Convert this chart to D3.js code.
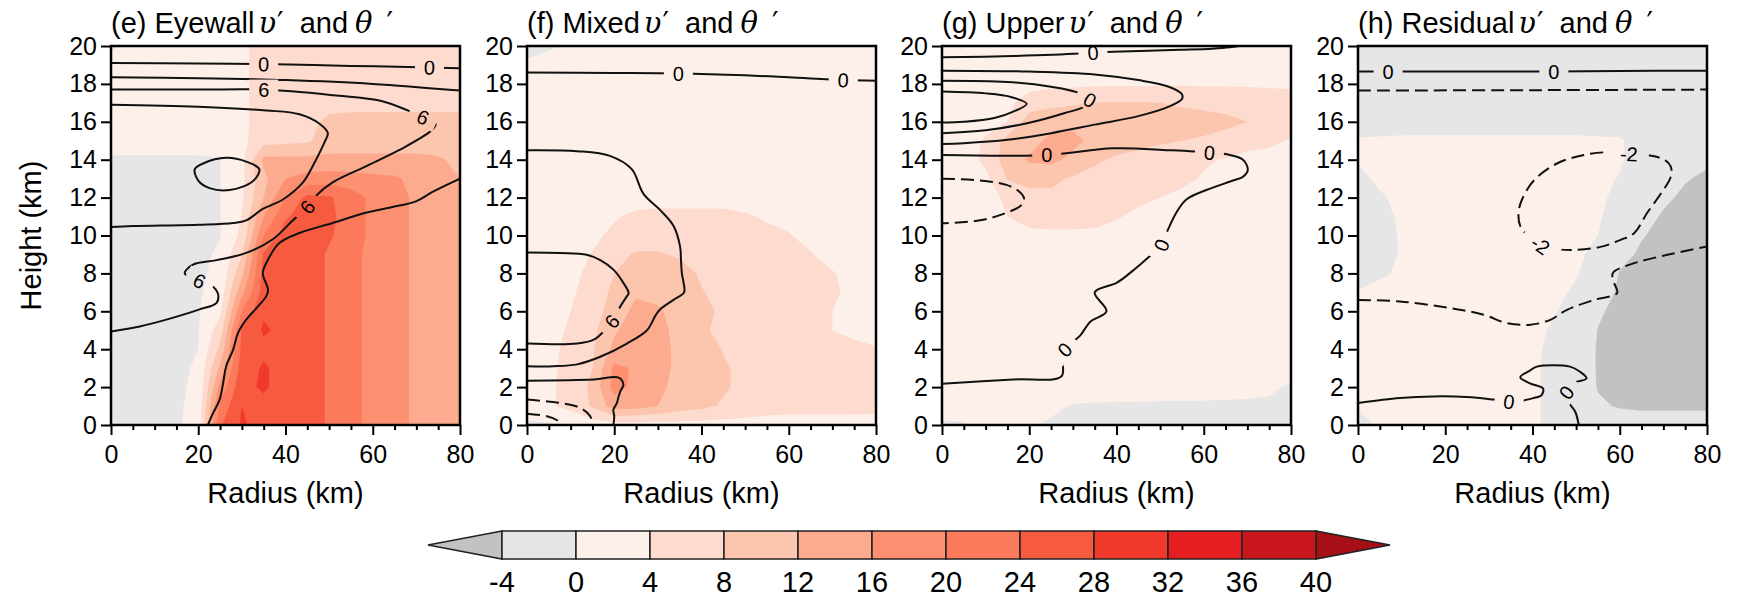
<!DOCTYPE html>
<html>
<head>
<meta charset="utf-8">
<title>Composite v' and theta'</title>
<script src="https://cdn.jsdelivr.net/npm/d3@7"></script>
<style>
  body { margin: 0; background: #fff; }
  svg text { font-family: "Liberation Sans", Arial, Helvetica, sans-serif; fill: #000; }
</style>
</head>
<body>
<svg id="fig" width="1747" height="597"></svg>
<script>
// grid the shading is sampled on (km); rows run from the top of the domain down
const radius = [0, 5, 10, 15, 20, 25, 30, 35, 40, 45, 50, 55, 60, 65, 70, 75, 80];
const height = [20, 19, 18, 17, 16, 15, 14, 13, 12, 11, 10, 9, 8, 7, 6, 5, 4, 3, 2, 1, 0];

const radiusTicks = [0, 20, 40, 60, 80];
const heightTicks = [0, 2, 4, 6, 8, 10, 12, 14, 16, 18, 20];

// v' shading levels and colours (one colour per band starting at each level)
const levels = [-4, 0, 4, 8, 12, 16, 20, 24, 28, 32, 36, 40];
const shadeColors = ["#e6e6e6", "#fdf0ea", "#fddccf", "#fcc5ae", "#fcab8f", "#fc9070",
                     "#fb7a5b", "#f65b40", "#f0392b", "#e61e22", "#c9161c", "#a50f15"];
const belowColor = "#c2c2c2";

// v' (m/s) -- eyewall heating
const eyewallV = [
  [-0.5, 1, 1, 1, 1, 1, 3, 6, 6, 6, 6, 6, 6, 6, 6, 6, 6],
  [1, 1, 1, 1, 1, 1, 3, 6, 6, 6, 6, 6, 6, 6, 6, 6, 6],
  [1, 1, 1, 1, 1, 1, 3, 6, 6, 6, 6, 6, 6, 6, 6, 6, 6],
  [1, 1, 1, 1, 1, 1, 3, 6, 6, 6.5, 7, 7, 7, 7, 7, 7, 7],
  [1, 1, 1, 1, 1, 1, 3, 6, 6.5, 7, 8.7, 9, 9, 9, 9, 9, 9],
  [1, 1, 1, 1, 1, 1, 3, 6.5, 7, 7.5, 10, 10, 10, 10, 10, 10, 9.5],
  [-0.3, -0.3, -0.3, -0.3, -0.3, -0.1, 3, 13, 13, 13, 13, 13, 13, 13, 13, 12.5, 11],
  [-0.5, -0.5, -0.5, -0.5, -0.5, -0.1, 3, 11, 16, 17.5, 18, 17.5, 17, 16.5, 15, 13.5, 12],
  [-0.5, -0.5, -0.5, -0.5, -0.5, -0.1, 3.5, 12, 20, 25, 24.5, 22, 19, 17, 15.5, 14, 12.5],
  [-0.5, -0.5, -0.5, -0.5, -0.5, -0.1, 4.2, 16, 23.5, 26, 25, 22, 19, 17, 15.5, 14, 13],
  [-0.5, -0.5, -0.5, -0.5, -0.5, -0.1, 5, 20, 26, 26, 24.5, 22, 19, 17, 15.5, 14, 13],
  [-0.5, -0.5, -0.5, -0.5, -0.5, 0.3, 8, 24.5, 26, 26, 23.5, 21, 19, 17, 15.5, 14, 13],
  [-0.5, -0.5, -0.5, -0.5, -0.5, 0.8, 11, 25.5, 26, 26, 23.5, 21, 19, 17, 15.5, 14, 13],
  [-0.5, -0.5, -0.5, -0.5, -0.4, 1.5, 15, 26, 26.5, 26, 23.5, 21, 19, 17, 15.5, 14, 13],
  [-0.5, -0.5, -0.5, -0.5, -0.3, 3, 20, 27.5, 27, 26, 23.5, 21, 19, 17, 15.5, 14, 13],
  [-0.5, -0.5, -0.5, -0.5, -0.2, 6, 24.5, 28.5, 27, 26, 23.5, 21, 19, 17, 15.5, 14, 13],
  [-0.5, -0.5, -0.5, -0.5, 0, 9, 25, 27, 26.5, 26, 23.5, 21, 19, 17, 15.5, 14, 13],
  [-0.5, -0.5, -0.5, -0.5, 0.3, 13, 26, 28.5, 26.5, 26, 23.5, 21, 19, 17, 15.5, 14, 13],
  [-0.5, -0.5, -0.5, -0.5, 0.6, 17, 27, 28.5, 26.5, 26, 23.5, 21, 19, 17, 15.5, 14, 13],
  [-0.5, -0.5, -0.5, -0.5, 1, 21, 28, 27, 26.5, 26, 23.5, 21, 19, 17, 15.5, 14, 13],
  [-0.5, -0.5, -0.5, -0.5, 1.5, 23.5, 28.5, 26.5, 26, 26, 23.5, 21, 19, 17, 15.5, 14, 13]
];

// v' -- mixed heating
const mixedV = [
  [-1, -0.5, 0.5, 2, 2, 2, 2, 2, 2, 2, 2, 2, 2, 2, 2, 2, 2],
  [0.5, 1.5, 2, 2, 2, 2, 2, 2, 2, 2, 2, 2, 2, 2, 2, 2, 2],
  [2, 2, 2, 2, 2, 2, 2, 2, 2, 2, 2, 2, 2, 2, 2, 2, 2],
  [2, 2, 2, 2, 2, 2, 2, 2, 2, 2, 2, 2, 2, 2, 2, 2, 2],
  [2, 2, 2, 2, 2, 2, 2, 2, 2, 2, 2, 2, 2, 2, 2, 2, 2],
  [2, 2, 2, 2, 2, 2, 2, 2, 2, 2, 2, 2, 2, 2, 2, 2, 2],
  [2, 2, 2, 2, 2, 2, 2, 2, 2, 2, 2, 2, 2, 2, 2, 2, 2],
  [2, 2, 2, 2, 2, 2, 2, 2, 2, 2, 2, 2, 2, 2, 2, 2, 2],
  [2, 2, 2, 2, 2, 2, 2, 2, 2, 2, 2, 2, 2, 2, 2, 2, 2],
  [2, 2, 2, 2, 3.5, 5, 5.5, 5.5, 5.5, 5.5, 4.5, 3.5, 3, 2.5, 2, 2, 2],
  [2, 2, 2, 3, 5, 5.5, 5.5, 5.5, 5.5, 5.5, 5.2, 5, 4.2, 3, 2.5, 2, 2],
  [2, 2, 2.5, 4.2, 6.5, 8.5, 8.5, 7.5, 6.5, 6, 5.5, 5.5, 5, 4.2, 3, 2.5, 2],
  [2, 2, 3, 5, 8, 10.5, 10.5, 9.5, 7.5, 6.5, 6, 5.5, 5.5, 5, 4.2, 3, 2.5],
  [2, 2.5, 3.5, 5.5, 9, 11.5, 11, 10, 8.2, 7, 6.5, 6, 5.5, 5.5, 4.5, 3.2, 2.5],
  [2.5, 3, 4, 6, 10, 13, 12.5, 10.5, 8.8, 7.5, 6.8, 6.2, 5.8, 5.5, 4, 3, 2.8],
  [3, 3.5, 4.2, 7, 11.5, 14, 13, 11, 8.5, 7.2, 7, 6.2, 5.8, 5.5, 4, 3.5, 3],
  [3, 3.5, 4.5, 7.5, 13, 15, 13.5, 11, 10, 7.8, 7, 6, 5.5, 5.5, 5, 4.5, 4.2],
  [3, 3.5, 4.8, 8, 17, 15.5, 13.5, 11, 10, 8.5, 7, 6, 5.5, 5.5, 5.5, 5.5, 5.5],
  [3, 3.5, 5, 9, 17.5, 15, 13, 10.5, 10, 8.5, 7, 6, 5.5, 5.5, 5.5, 5.5, 5.5],
  [3, 3.5, 5, 8.5, 14, 13.5, 12, 10, 9, 7.5, 6.5, 5.5, 5.2, 5.2, 5.2, 5.2, 5],
  [-1, -0.5, 1, 2, 2.5, 2.5, 2.5, 2.5, 2.5, 2.5, 2.5, 2.5, 2.5, 2.5, 2.5, 2.5, 2.5]
];

// v' -- upper-level heating
const upperV = [
  [2, 2, 2, 2, 2, 2, 2, 2, 2, 2, 2, 2, 2, 2, 2, 2, 2],
  [2, 2, 2, 2, 2, 2, 2, 2, 2, 2, 2, 2, 2, 2, 2, 2, 2],
  [2, 2, 2, 2, 2.5, 3, 3.2, 3.4, 3.5, 3.5, 3.5, 3.6, 3.6, 3.6, 3.6, 3.6, 3.6],
  [2, 2, 2, 3, 6, 7, 7.5, 8, 8.2, 8.2, 8, 7.5, 7, 6.5, 6, 5.5, 5],
  [2, 2, 2.5, 4, 10, 10.5, 11, 10.5, 10, 9.8, 9.5, 9.5, 9.5, 9, 8, 6, 5],
  [2, 2, 4.5, 9.5, 10.5, 13, 13, 11, 9.5, 9, 8.5, 8, 7.5, 6.5, 5, 4.5, 3.8],
  [2, 2, 5, 10, 12.5, 13, 11, 8.5, 7.5, 7, 6, 5, 4.3, 3.8, 3.2, 3.2, 3.2],
  [2, 2, 3, 8.2, 9, 9, 7.5, 7, 6, 5.5, 5, 4.5, 3.8, 3.5, 3.2, 3, 3],
  [2, 2, 3, 4.5, 7, 7, 6.5, 6, 5.5, 4.5, 4, 3.5, 3.3, 3, 3, 3, 3],
  [2, 2, 2.8, 4, 5.2, 5.5, 5.5, 5.2, 4.2, 3.5, 3.2, 3, 3, 3, 3, 3, 3],
  [2, 2, 2.5, 3, 3.2, 3.3, 3.3, 3.2, 3.2, 3, 3, 3, 3, 3, 3, 3, 3],
  [2.5, 2.5, 2.5, 2.5, 2.5, 2.5, 2.5, 2.5, 2.5, 2.5, 2.5, 2.5, 2.5, 2.5, 2.5, 2.5, 2.5],
  [2.5, 2.5, 2.5, 2.5, 2.5, 2.5, 2.5, 2.5, 2.5, 2.5, 2.5, 2.5, 2.5, 2.5, 2.5, 2.5, 2.5],
  [2.5, 2.5, 2.5, 2.5, 2.5, 2.5, 2.5, 2.5, 2.5, 2.5, 2.5, 2.5, 2.5, 2.5, 2.5, 2.5, 2.5],
  [2.5, 2.5, 2.5, 2.5, 2.5, 2.5, 2.5, 2.5, 2.5, 2.5, 2.5, 2.5, 2.5, 2.5, 2.5, 2.5, 2.5],
  [2.5, 2.5, 2.5, 2.5, 2.5, 2.5, 2.5, 2.5, 2.5, 2.5, 2.5, 2.5, 2.5, 2.5, 2.5, 2.5, 2.5],
  [2.5, 2.5, 2.5, 2.5, 2.5, 2.5, 2.5, 2.5, 2.5, 2.5, 2.5, 2.5, 2.5, 2.5, 2.5, 2.5, 2.5],
  [2.5, 2.5, 2.5, 2.5, 2.5, 2.5, 2.5, 2.5, 2.5, 2.5, 2.5, 2.5, 2.5, 2.5, 2.5, 2.3, 2],
  [2.5, 2.5, 2.5, 2.5, 2.5, 2.5, 2.5, 2.5, 2.5, 2.5, 2, 1.8, 1.5, 1.2, 1, 0.6, -0.5],
  [1.5, 1.5, 2, 2, 1.5, 0.8, -0.3, -0.6, -0.7, -0.7, -0.7, -0.7, -0.6, -0.6, -0.6, -0.6, -0.8],
  [-0.5, -0.3, 0.5, 1, 0.3, -0.5, -0.7, -0.8, -0.8, -0.8, -0.8, -0.8, -0.8, -0.8, -0.8, -0.8, -0.8]
];

// v' -- residual
const residualV = [
  [-1, -1, -1, -1, -1, -1, -1, -1, -1, -1, -1, -1, -1, -1, -1, -1, -1],
  [-1, -1, -1, -1, -1, -1, -1, -1, -1, -1, -1, -1, -1, -1, -1, -1, -1],
  [-1, -1, -1, -1, -1, -1, -1, -1, -1, -1, -1, -1, -1, -1, -1, -1, -1],
  [-1, -1, -1, -1, -1, -1, -1, -1, -1, -1, -1, -1, -1, -1, -1, -1, -1],
  [-1, -1, -1, -1, -1, -1, -1, -1, -1, -1, -1, -1, -1, -1, -1, -1, -1],
  [0.2, 0.3, 0.4, 0.4, 0.4, 0.4, 0.4, 0.4, 0.4, 0.4, 0.4, 0.3, 0.2, -0.8, -1, -1, -1],
  [0.1, 0.4, 0.5, 0.5, 0.5, 0.5, 0.5, 0.5, 0.5, 0.5, 0.5, 0.4, 0.2, -0.8, -1.5, -2.5, -3.5],
  [-0.4, 0.3, 0.5, 0.5, 0.5, 0.5, 0.5, 0.5, 0.5, 0.5, 0.5, 0.4, -0.1, -1.5, -2.5, -3.8, -4.5],
  [-0.8, -0.2, 0.4, 0.5, 0.5, 0.5, 0.5, 0.5, 0.5, 0.5, 0.5, 0.3, -0.4, -2, -3.5, -4.5, -5],
  [-0.8, -0.4, 0.2, 0.5, 0.5, 0.5, 0.5, 0.5, 0.5, 0.5, 0.4, 0.2, -0.8, -3, -4.3, -5, -5],
  [-0.8, -0.4, 0.1, 0.5, 0.5, 0.5, 0.5, 0.5, 0.5, 0.5, 0.3, 0, -1.5, -3.8, -4.8, -5, -5],
  [-0.8, -0.4, 0.1, 0.5, 0.5, 0.5, 0.5, 0.5, 0.5, 0.5, 0.2, -0.3, -3, -4.5, -5, -5, -5],
  [-0.6, -0.2, 0.2, 0.5, 0.5, 0.5, 0.5, 0.5, 0.5, 0.4, 0.1, -0.6, -4.2, -5, -5, -5, -5],
  [0.1, 0.4, 0.5, 0.5, 0.5, 0.5, 0.5, 0.5, 0.5, 0.3, -0.2, -2, -4.6, -5, -5, -5, -5],
  [0.4, 0.5, 0.5, 0.5, 0.5, 0.5, 0.5, 0.5, 0.5, 0.1, -0.6, -3.5, -5, -5, -5, -5, -5],
  [0.4, 0.5, 0.5, 0.5, 0.5, 0.5, 0.5, 0.5, 0.4, -0.2, -1, -4.1, -5, -5, -5, -5, -5],
  [0.4, 0.5, 0.5, 0.5, 0.5, 0.5, 0.5, 0.5, 0.3, -0.4, -1.5, -4.3, -5, -5, -5, -5, -5],
  [0.4, 0.5, 0.5, 0.5, 0.5, 0.5, 0.5, 0.5, 0.3, -0.5, -1.5, -4.3, -5, -5, -5, -5, -5],
  [0.3, 0.5, 0.5, 0.5, 0.5, 0.5, 0.5, 0.5, 0.3, -0.5, -1.5, -4.2, -5, -5, -5, -5, -5],
  [0.15, 0.4, 0.5, 0.5, 0.5, 0.5, 0.5, 0.5, 0.3, -0.5, -1.5, -3.5, -4.3, -4.6, -4.6, -4.6, -4.6],
  [-0.6, 0.2, 0.5, 0.5, 0.5, 0.5, 0.5, 0.5, 0.3, -0.5, -1, -1.5, -2, -2.2, -2.2, -2.2, -2.2]
];

// theta' (K) contour lines, traced as [radius, height] pairs; negative values are dashed
const eyewallTheta = [
  { value: 0, pts: [[0, 19.1], [20, 19.08], [35, 19.05], [55, 18.95], [73, 18.87], [80, 18.82]],
    labels: [[35, 19.05], [73, 18.87]] },
  { value: 3, pts: [[0, 18.35], [20, 18.3], [40, 18.2], [60, 18.0], [80, 17.65]] },
  { value: 6, pts: [[0, 17.7], [20, 17.7], [35, 17.7], [51, 17.4], [62, 17.1], [68, 16.6], [71.5, 16.25],
      [74.4, 15.9], [73.5, 15.55], [66, 14.5], [58.4, 13.65], [50.8, 12.8], [47, 12.1], [45, 11.5],
      [41.7, 10.8], [37.1, 9.8], [31, 9.08], [24.2, 8.7], [18.8, 8.46], [16.9, 8.0], [20.3, 7.6],
      [23.4, 7.3], [24.5, 6.95], [24.2, 6.45], [20.3, 6.1], [12.7, 5.56], [6.6, 5.2], [0, 4.94]],
    labels: [[35, 17.7], [71.5, 16.25], [45, 11.5], [20.3, 7.6]] },
  { value: 9, pts: [[0, 16.9], [20, 16.8], [35.6, 16.6], [43.2, 16.4], [47.8, 15.9], [49.7, 15.4],
      [48.9, 14.9], [47, 14.0], [44, 12.8], [39.4, 11.9], [34.8, 11.4], [31, 10.8], [28, 10.66],
      [20.3, 10.57], [5, 10.5], [0, 10.45]] },
  { value: 12, closed: true, pts: [[19.2, 13.5], [21.1, 13.8], [26.4, 14.1], [31, 13.9], [34, 13.5],
      [32.5, 12.86], [27.2, 12.4], [22.6, 12.5], [20, 12.9]] },
  { value: 3, pts: [[80, 13], [73.7, 12.3], [69.9, 11.8], [64.5, 11.5], [58.4, 11.2], [50.8, 10.66],
      [43.2, 10.13], [38.6, 9.6], [35.6, 8.55], [34.8, 8.0], [36, 7.14], [35.6, 6.8], [33.7, 6.26],
      [31, 5.56], [29.1, 4.85], [28, 3.98], [26.4, 3.1], [25.7, 2.2], [24.9, 1.34], [23.4, 0.63], [22.2, 0]] }
];

const mixedTheta = [
  { value: 0, pts: [[0, 18.6], [20, 18.58], [34.7, 18.55], [50, 18.45], [60, 18.35], [72.5, 18.2], [80, 18.17]],
    labels: [[34.7, 18.55], [72.5, 18.2]] },
  { value: 3, pts: [[0, 14.5], [11.5, 14.45], [19, 14.2], [24, 13.5], [26.7, 12.2], [30.5, 11.35],
      [33.6, 10.5], [35.1, 9.4], [35.3, 8.7], [35.5, 8.0], [35.9, 7.5], [36, 7.0], [33.6, 6.6],
      [30.5, 6.1], [29.5, 5.8], [27.5, 5.0], [22.9, 4.3], [16.8, 3.6], [11.5, 3.2], [6.1, 3.1], [0, 3.1]] },
  { value: 6, pts: [[0, 4.3], [11.5, 4.3], [15.3, 4.5], [17.6, 4.94], [19.5, 5.47], [21.4, 6.26],
      [22.9, 6.8], [23.3, 6.96], [22.1, 7.5], [19.8, 8.2], [16.8, 8.7], [13.7, 8.98], [7.6, 9.07], [0, 9.1]],
    labels: [[19.5, 5.47]] },
  { value: 9, pts: [[0, 2.34], [15.3, 2.4], [21, 2.5], [22.1, 2.13], [21.4, 1.78], [21, 1.5],
      [20.6, 1.16], [19.8, 0.8], [20, 0.46], [19.8, 0]] },
  { value: -3, pts: [[0, 1.34], [7.6, 1.16], [12.2, 0.9], [14.5, 0.46], [14.9, 0]] },
  { value: -6, pts: [[0, 0.6], [4.6, 0.46], [6.9, 0.25], [8, 0]] }
];

const upperTheta = [
  { value: 0, pts: [[0, 19.4], [16.3, 19.47], [31.6, 19.6], [34.6, 19.65], [39.2, 19.7], [54.5, 19.8],
      [62, 19.86], [66, 19.93], [68, 20]], labels: [[34.6, 19.65]] },
  { value: 3, pts: [[0, 18.7], [20, 18.65], [35, 18.5], [45, 18.2], [52, 17.85], [55, 17.45], [55, 17.2],
      [52, 16.8], [45, 16.3], [35, 15.85], [25, 15.4], [15, 15.05], [5, 14.87], [0, 14.83]] },
  { value: 0, pts: [[0, 18.17], [15, 18.1], [25, 17.85], [31, 17.55], [33.9, 17.15], [33, 16.85],
      [28, 16.45], [20, 15.95], [10, 15.55], [0, 15.4]], labels: [[33.9, 17.15]] },
  { value: 9, pts: [[0, 17.6], [10, 17.5], [16, 17.3], [19.4, 16.95], [17, 16.6], [12, 16.2], [5, 16.0], [0, 15.96]] },
  { value: 0, pts: [[0, 14.25], [24, 14.25], [39.2, 14.6], [52, 14.5], [61.3, 14.38], [66, 14.25],
      [69, 14.0], [70.1, 13.46], [69, 13.1], [66.7, 12.9], [60.6, 12.4], [56, 11.9], [53.7, 11.2],
      [51.4, 10.1], [50.3, 9.5], [47.6, 8.9], [43, 8.0], [40, 7.5], [35, 7.0], [37.7, 6.0], [34, 5.45],
      [31.6, 4.7], [29.5, 4.3], [27.8, 3.9], [27.6, 3.4], [27.4, 2.57], [16.3, 2.4], [0, 2.18]],
    labels: [[24, 14.25], [61.3, 14.38], [50.3, 9.5], [28, 4.0]] },
  { value: -3, pts: [[0, 13.0], [8.7, 12.9], [14.8, 12.67], [17.8, 12.3], [18.8, 11.97], [18.2, 11.6],
      [14.8, 11.2], [8.7, 10.8], [0, 10.65]] }
];

const residualTheta = [
  { value: 0, pts: [[0, 18.65], [6.9, 18.65], [25, 18.65], [44.9, 18.65], [60, 18.68], [80, 18.7]],
    labels: [[6.9, 18.65], [44.9, 18.65]] },
  { value: -1, pts: [[0, 17.65], [40, 17.67], [80, 17.7]] },
  { value: -2, closed: true, pts: [[39.5, 9.86], [41.8, 9.5], [44, 9.33], [49.5, 9.24], [55.6, 9.4],
      [60.2, 9.77], [63.3, 10.12], [66.3, 11.2], [69.4, 12.2], [71.7, 13.1], [71.7, 13.64], [70.2, 14.0],
      [66.3, 14.25], [62.1, 14.3], [57.9, 14.4], [51.8, 14.25], [45.6, 13.8], [40.3, 12.9], [37.6, 11.9],
      [36.8, 11.2], [37.2, 10.5]], labels: [[62.1, 14.3], [41.8, 9.5]] },
  { value: -1, pts: [[0, 6.6], [9.6, 6.52], [21.1, 6.17], [28.8, 5.82], [34.1, 5.38], [39.5, 5.29],
      [44.1, 5.55], [47.9, 6.08], [54.1, 6.6], [59.4, 6.96], [58.7, 7.5], [58.3, 7.93], [58.7, 8.1],
      [63.3, 8.54], [70.9, 8.98], [80, 9.42]] },
  { value: 0, pts: [[0, 1.16], [9.6, 1.42], [17.3, 1.51], [24.9, 1.48], [31.1, 1.34], [34.6, 1.23],
      [37.5, 1.28], [40.2, 1.42], [42.1, 1.58], [42.4, 1.93], [39.4, 2.2], [37.2, 2.52], [39.4, 2.87],
      [41, 3.08], [48.6, 3.08], [50.9, 2.81], [52.4, 2.46], [49.4, 2.2], [47.8, 1.72], [48.2, 1.23],
      [49.8, 0.7], [50.6, 0]], labels: [[34.6, 1.23], [47.8, 1.72]] }
];

const panels = [
  { id: "e", name: "Eyewall", shade: eyewallV, lines: eyewallTheta },
  { id: "f", name: "Mixed", shade: mixedV, lines: mixedTheta },
  { id: "g", name: "Upper", shade: upperV, lines: upperTheta },
  { id: "h", name: "Residual", shade: residualV, lines: residualTheta }
];

// layout
const W = 1747, H = 597;
const panelLeft = [111, 527, 942, 1358];
const plotW = 349, plotTop = 46, plotBottom = 425;
const font = '"Liberation Sans", Arial, Helvetica, sans-serif';
const mathFont = '"DejaVu Serif", serif';

const svg = d3.select("#fig");
const defs = svg.append("defs");

// grid index -> data coordinate (d3.contours puts sample i at i + 0.5)
const gx = d3.scaleLinear().domain([0.5, radius.length - 0.5]).range([radius[0], radius[radius.length - 1]]);
const gy = d3.scaleLinear().domain([0.5, height.length - 0.5]).range([height[0], height[height.length - 1]]);

const contourGen = d3.contours().size([radius.length, height.length]).thresholds(levels);

function nearestOnLine(ptsPx, q) {
  let best = null;
  for (let k = 0; k < ptsPx.length - 1; k++) {
    const a = ptsPx[k], b = ptsPx[k + 1];
    const dx = b[0] - a[0], dy = b[1] - a[1];
    const len2 = dx * dx + dy * dy || 1;
    let t = ((q[0] - a[0]) * dx + (q[1] - a[1]) * dy) / len2;
    t = Math.max(0, Math.min(1, t));
    const c = [a[0] + t * dx, a[1] + t * dy];
    const d2 = (c[0] - q[0]) ** 2 + (c[1] - q[1]) ** 2;
    if (!best || d2 < best.d2) best = { d2, c, ang: Math.atan2(dy, dx) * 180 / Math.PI };
  }
  if (best.ang > 90) best.ang -= 180;
  if (best.ang < -90) best.ang += 180;
  return best;
}

panels.forEach((p, i) => {
  const x = d3.scaleLinear().domain([0, 80]).range([panelLeft[i], panelLeft[i] + plotW]);
  const y = d3.scaleLinear().domain([0, 20]).range([plotBottom, plotTop]);
  const g = svg.append("g").attr("class", "panel-" + p.id);

  defs.append("clipPath").attr("id", "clip-" + p.id)
    .append("rect")
      .attr("x", x(0)).attr("y", y(20))
      .attr("width", x(80) - x(0)).attr("height", y(0) - y(20));

  const field = g.append("g").attr("clip-path", `url(#clip-${p.id})`);

  // shaded v'
  field.append("rect")
    .attr("x", x(0)).attr("y", y(20))
    .attr("width", x(80) - x(0)).attr("height", y(0) - y(20))
    .attr("fill", belowColor);

  const proj = d3.geoTransform({
    point(px, py) { this.stream.point(x(gx(px)), y(gy(py))); }
  });
  const path = d3.geoPath(proj);

  field.selectAll("path.band")
    .data(contourGen(p.shade.flat()))
    .join("path")
      .attr("class", "band")
      .attr("d", path)
      .attr("fill", (d, k) => shadeColors[k]);

  // theta' lines, broken where the labels sit
  const mask = defs.append("mask").attr("id", "mask-" + p.id)
    .attr("maskUnits", "userSpaceOnUse")
    .attr("x", 0).attr("y", 0).attr("width", W).attr("height", H);
  mask.append("rect").attr("width", W).attr("height", H).attr("fill", "#fff");

  const lineG = field.append("g").attr("mask", `url(#mask-${p.id})`);
  const labelG = field.append("g");

  p.lines.forEach(ln => {
    const curve = ln.closed ? d3.curveCatmullRomClosed.alpha(0.5) : d3.curveCatmullRom.alpha(0.5);
    const line = d3.line().x(d => x(d[0])).y(d => y(d[1])).curve(curve);
    lineG.append("path")
      .attr("d", line(ln.pts))
      .attr("fill", "none")
      .attr("stroke", "#111")
      .attr("stroke-width", 2)
      .attr("stroke-linejoin", "round")
      .attr("stroke-dasharray", ln.value < 0 ? "13,6" : null);

    const ptsPx = ln.pts.map(d => [x(d[0]), y(d[1])]);
    if (ln.closed) ptsPx.push(ptsPx[0]);
    (ln.labels || []).forEach(lb => {
      const s = nearestOnLine(ptsPx, [x(lb[0]), y(lb[1])]);
      const txt = String(ln.value);
      const w = txt.length * 11 + 18;
      const tf = `translate(${s.c[0]},${s.c[1]}) rotate(${s.ang})`;
      mask.append("rect")
        .attr("x", -w / 2).attr("y", -10).attr("width", w).attr("height", 20)
        .attr("transform", tf).attr("fill", "#000");
      labelG.append("text")
        .attr("transform", tf)
        .attr("text-anchor", "middle")
        .attr("dy", "0.36em")
        .attr("font-size", 20)
        .text(txt);
    });
  });

  // axes
  const xAxis = d3.axisBottom(x).tickValues(radiusTicks).tickSize(10).tickPadding(10);
  const xMinor = d3.axisBottom(x)
    .tickValues(radius.filter(r => !radiusTicks.includes(r)))
    .tickSize(5).tickFormat("");
  const yAxis = d3.axisLeft(y).tickValues(heightTicks).tickSize(10).tickPadding(4);

  [[xAxis, `translate(0,${plotBottom})`], [xMinor, `translate(0,${plotBottom})`], [yAxis, `translate(${x(0)},0)`]]
    .forEach(([ax, tf]) => {
      const a = g.append("g").attr("transform", tf).call(ax);
      a.select(".domain").remove();
      a.attr("font-size", 25).attr("font-family", font);
      a.selectAll(".tick line").attr("stroke", "#000").attr("stroke-width", 2);
    });

  // frame
  g.append("rect")
    .attr("x", x(0)).attr("y", y(20))
    .attr("width", x(80) - x(0)).attr("height", y(0) - y(20))
    .attr("fill", "none").attr("stroke", "#000").attr("stroke-width", 2.5);

  // title: "(e) Eyewall υ′ and θ′"
  const t = g.append("text")
    .attr("x", x(0)).attr("y", 33)
    .attr("font-size", 29)
    .attr("text-anchor", "start");
  t.append("tspan").text(`(${p.id}) ${p.name}`);
  t.append("tspan").attr("dx", 4).attr("font-family", mathFont).attr("font-style", "italic").text("υ");
  t.append("tspan").attr("dx", 1).attr("font-family", mathFont).text("′");
  t.append("tspan").attr("dx", 16).text("and");
  t.append("tspan").attr("dx", 7).attr("font-family", mathFont).attr("font-style", "italic").text("θ");
  t.append("tspan").attr("dx", 14).attr("font-family", mathFont).text("′");

  g.append("text")
    .attr("x", (x(0) + x(80)) / 2).attr("y", 503)
    .attr("text-anchor", "middle")
    .attr("font-size", 29)
    .text("Radius (km)");

  if (i === 0) {
    g.append("text")
      .attr("transform", `translate(41,${(plotTop + plotBottom) / 2}) rotate(-90)`)
      .attr("text-anchor", "middle")
      .attr("font-size", 29)
      .text("Height (km)");
  }
});

// label bar
const cbX = d3.scaleLinear().domain([levels[0], levels[levels.length - 1]]).range([502, 1316]);
const cbTop = 531, cbBot = 559, cbMid = (cbTop + cbBot) / 2;
const cb = svg.append("g").attr("class", "colorbar");
const boxW = cbX(levels[1]) - cbX(levels[0]);

cb.append("path")
  .attr("d", `M${cbX(levels[0])},${cbTop}L${cbX(levels[0]) - boxW},${cbMid}L${cbX(levels[0])},${cbBot}Z`)
  .attr("fill", belowColor).attr("stroke", "#222").attr("stroke-width", 1.5);
cb.append("path")
  .attr("d", `M${cbX(40)},${cbTop}L${cbX(40) + boxW},${cbMid}L${cbX(40)},${cbBot}Z`)
  .attr("fill", shadeColors[shadeColors.length - 1]).attr("stroke", "#222").attr("stroke-width", 1.5);

cb.selectAll("rect")
  .data(d3.pairs(levels))
  .join("rect")
    .attr("x", d => cbX(d[0]))
    .attr("y", cbTop)
    .attr("width", d => cbX(d[1]) - cbX(d[0]))
    .attr("height", cbBot - cbTop)
    .attr("fill", (d, k) => shadeColors[k])
    .attr("stroke", "#222").attr("stroke-width", 1.5);

cb.selectAll("text")
  .data(levels)
  .join("text")
    .attr("x", d => cbX(d))
    .attr("y", 592)
    .attr("text-anchor", "middle")
    .attr("font-size", 29)
    .text(d => d);
</script>
</body>
</html>
